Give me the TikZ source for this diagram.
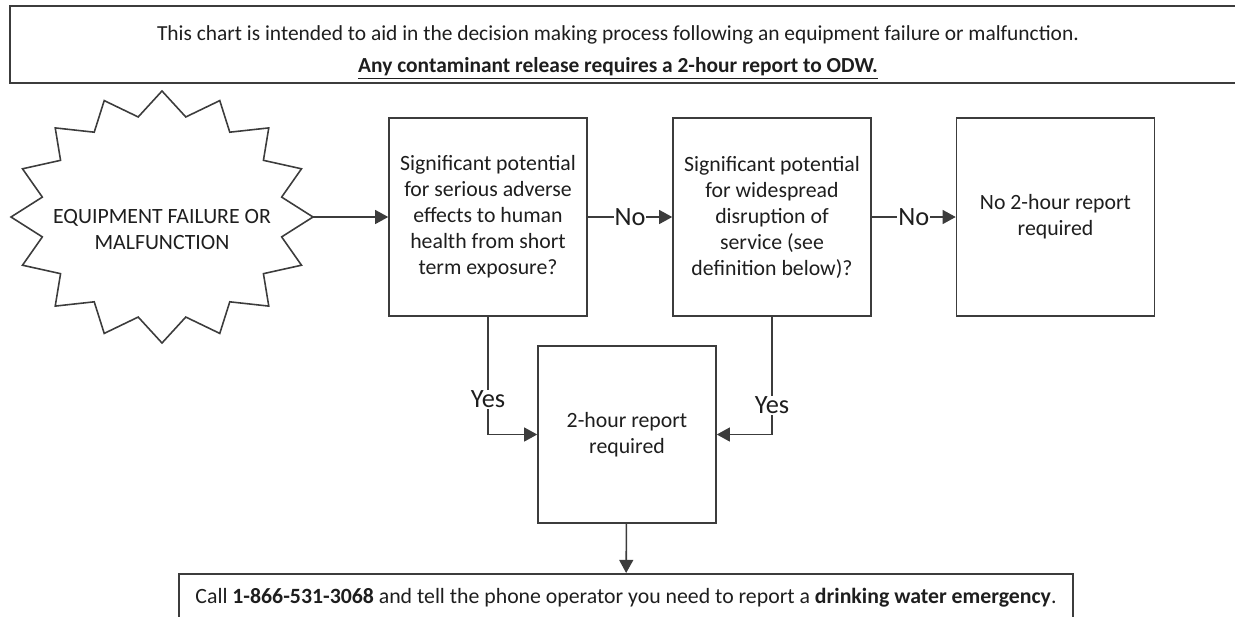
\documentclass[tikz,border=0pt]{standalone}
\usepackage{fontspec}
\setmainfont{Carlito}
\usetikzlibrary{arrows.meta, positioning}
\definecolor{linegray}{RGB}{60,60,60}
\definecolor{textgray}{RGB}{30,30,30}

\begin{document}
\begin{tikzpicture}[x=0.02cm, y=-0.02cm,
    font=\fontsize{12.4}{14.8}\selectfont, text=textgray,
    box/.style={draw=linegray, line width=0.9pt, align=center, minimum width=3.96cm, minimum height=3.96cm, inner sep=2pt},
    flow/.style={draw=linegray, line width=0.9pt, -{Triangle[length=7.5pt,width=8pt]}},
    lbl/.style={fill=white, inner sep=0.5pt, font=\fontsize{15}{18}\selectfont}]
    \useasboundingbox (0,0) rectangle (1235,616);
    % title box
    \draw[linegray, line width=1.2pt] (10,6) rectangle (1250,83);
    \node[align=center, font=\fontsize{12.2}{18.5}\selectfont] (title) at (618,52.5) {This chart is intended to aid in the decision making process following an equipment failure or malfunction.\\
        \underline{\textbf{Any contaminant release requires a 2-hour report to ODW.}}};
    % starburst
    \draw[linegray, line width=0.9pt] (313,217) \foreach \k in {0,...,15} {
        -- ({162+122*cos(\k*22.5+11.25)},{217+102*sin(\k*22.5+11.25)})
        -- ({162+151*cos((\k+1)*22.5)},{217+126*sin((\k+1)*22.5)}) } -- cycle;
    \coordinate (burstE) at (313,217);
    \node[align=center] (burst) at (162,230) {EQUIPMENT FAILURE OR\\MALFUNCTION};
    % decision boxes
    \node[box] (health) at (488,217) {Significant potential\\for serious adverse\\effects to human\\health from short\\term exposure?};
    \node[box] (service) at (772,217) {Significant potential\\for widespread\\disruption of\\service (see\\definition below)?};
    \node[box] (noreport) at (1055.5,217) {No 2-hour report\\required};
    \node[box, minimum width=3.56cm, minimum height=3.54cm] (report) at (627,434.5) {2-hour report\\required};
    \node[draw=linegray, line width=0.9pt, anchor=north, minimum width=17.88cm, minimum height=0.96cm] (call) at (626,573)
        {Call \textbf{1-866-531-3068} and tell the phone operator you need to report a \textbf{drinking water emergency}.};
    % connectors
    \draw[flow] (burstE) -- (health);
    \draw[flow] (health) -- node[lbl] {No} (service);
    \draw[flow] (service) -- node[lbl] {No} (noreport);
    \draw[flow] (health.south) -- node[lbl, pos=0.7] {Yes} (health.south |- report.west) -- (report.west);
    \draw[flow] (service.south) -- node[lbl, pos=0.75] {Yes} (service.south |- report.east) -- (report.east);
    \draw[flow] (report) -- (call);
\end{tikzpicture}
\end{document}
